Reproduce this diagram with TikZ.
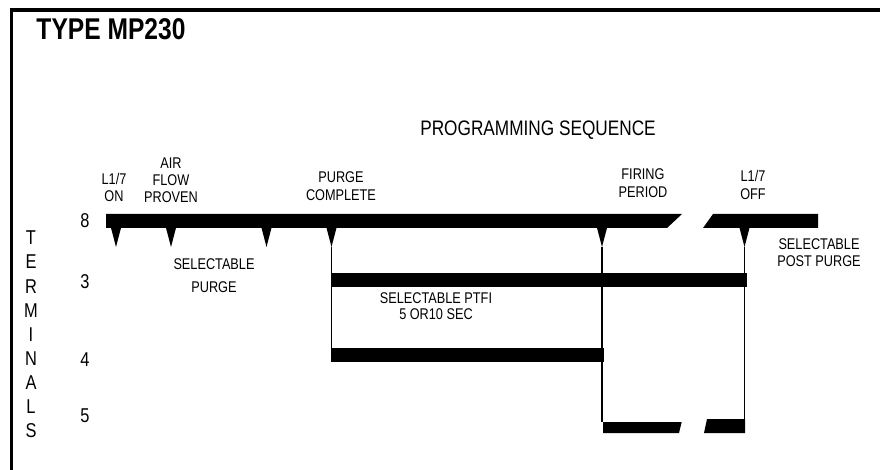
\documentclass[tikz,border=0pt]{standalone}
\usepackage{fontspec}
\setmainfont{Liberation Sans}[FakeStretch=0.82]

\begin{document}
\begin{tikzpicture}[x=1pt,y=-1pt,
  lbl/.style={align=center, inner sep=0pt, anchor=south, font=\fontsize{15.5}{17}\selectfont},
  num/.style={inner sep=0pt, anchor=south, font=\fontsize{20}{20}\selectfont},
  bar/.style={fill=black},
  lead/.style={line width=1.2pt}]
\useasboundingbox (0,0) rectangle (880,470);
\draw [line width=3.5pt] (11.3,470) -- (11.3,10) -- (880,10);
\node (title) at (111,40) [anchor=base, inner sep=0pt, font=\bfseries\fontsize{30}{30}\selectfont] {TYPE MP230};
\node (seq) at (538,136) [anchor=base, inner sep=0pt, font=\fontsize{21}{21}\selectfont] {PROGRAMMING SEQUENCE};
% terminal numbers
\node (term) at (31,438) [lbl, font=\fontsize{20}{24.1}\selectfont] {T\\E\\R\\M\\I\\N\\A\\L\\S};
\node (t8) at (85,228) [num] {8};
\node (t3) at (85,289) [num] {3};
\node (t4) at (85,367) [num] {4};
\node (t5) at (85,423) [num] {5};
% bars
\fill [bar] (106,214) -- (682,214) -- (667,228) -- (106,228) -- cycle;
\fill [bar] (713,214) -- (818,214) -- (818,228) -- (703,228) -- cycle;
\fill [bar] (331,273) rectangle (747,287);
\fill [bar] (331,348) rectangle (604,362);
\fill [bar] (603,422) -- (681.7,422) -- (679,433) -- (603,433) -- cycle;
\fill [bar] (707,419) -- (745,419) -- (745,433) -- (704,433) -- cycle;
% pointers under terminal 8
\coordinate (on) at (116,247);
\coordinate (air) at (171,247);
\coordinate (sel) at (266.5,247);
\coordinate (pc) at (331.5,247);
\coordinate (fire) at (602,247);
\coordinate (off) at (744.5,247);
\fill [bar] (on) -- ++(-5.5,-21) -- ++(11,0) -- cycle;
\fill [bar] (air) -- ++(-5.5,-21) -- ++(11,0) -- cycle;
\fill [bar] (sel) -- ++(-5.5,-21) -- ++(11,0) -- cycle;
\fill [bar] (pc) -- ++(-5.5,-21) -- ++(11,0) -- cycle;
\fill [bar] (fire) -- ++(-5.5,-21) -- ++(11,0) -- cycle;
\fill [bar] (off) -- ++(-5.5,-21) -- ++(11,0) -- cycle;
\coordinate (b4) at (331.5,348);
\coordinate (b5a) at (602,422);
\coordinate (b5b) at (744.5,419);
\draw [lead] (pc) -- (b4);
\draw [lead] (fire) -- (b5a);
\draw [lead] (off) -- (b5b);
% labels
\node (lon) at (114,202) [lbl] {L1/7\\ON};
\node (lair) at (171,203) [lbl] {AIR\\FLOW\\PROVEN};
\node (lpc) at (341,201) [lbl, font=\fontsize{15.5}{18}\selectfont] {PURGE\\COMPLETE};
\node (lfire) at (643,198) [lbl, font=\fontsize{15.5}{18}\selectfont] {FIRING\\PERIOD};
\node (loff) at (753,200) [lbl, font=\fontsize{15.5}{18}\selectfont] {L1/7\\OFF};
\node (lpost) at (819,267) [lbl] {SELECTABLE\\POST PURGE};
\node (lpurge) at (214,293) [lbl, font=\fontsize{15.5}{23}\selectfont] {SELECTABLE\\PURGE};
\node (lptfi) at (436,320) [lbl, font=\fontsize{15.5}{16}\selectfont] {SELECTABLE PTFI\\5 OR10 SEC};
\end{tikzpicture}
\end{document}
